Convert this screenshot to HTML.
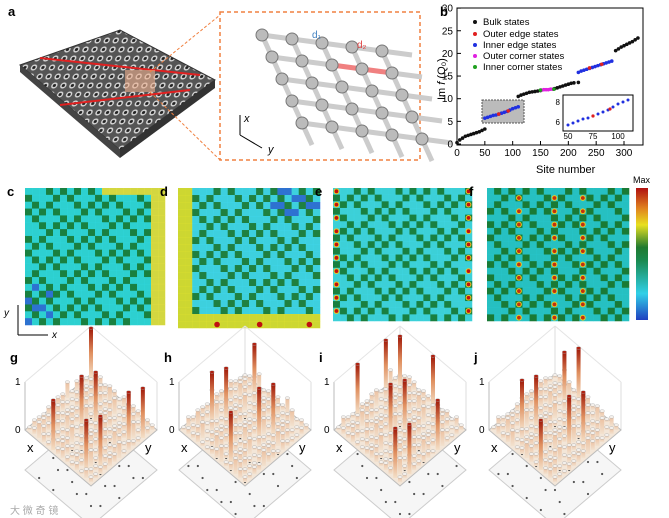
<!DOCTYPE html>
<html><head><meta charset="utf-8"><style>
body{margin:0;background:#fff;font-family:"Liberation Sans",sans-serif}
svg{display:block}
text{font-family:"Liberation Sans",sans-serif}
</style></head><body>
<svg id="fig" width="669" height="518" viewBox="0 0 669 518">
<defs>
<linearGradient id="cbar" x1="0" y1="1" x2="0" y2="0">
<stop offset="0" stop-color="#2040c0"/><stop offset="0.2" stop-color="#30d0e8"/><stop offset="0.45" stop-color="#1a8a50"/><stop offset="0.55" stop-color="#207a30"/><stop offset="0.72" stop-color="#e8e020"/><stop offset="0.85" stop-color="#e08020"/><stop offset="1" stop-color="#b01010"/></linearGradient>
<linearGradient id="barg" x1="0" y1="1" x2="0" y2="0"><stop offset="0" stop-color="#f4e0c8"/><stop offset="0.5" stop-color="#e09060"/><stop offset="1" stop-color="#a01808"/></linearGradient>
<linearGradient id="bars" x1="0" y1="1" x2="0" y2="0"><stop offset="0" stop-color="#f2e2d0"/><stop offset="1" stop-color="#ecc0a0"/></linearGradient>
<pattern id="lat" width="9" height="9" patternUnits="userSpaceOnUse" patternTransform="skewX(-20)"><rect width="9" height="9" fill="#555"/><circle cx="4.5" cy="4.5" r="3" fill="#ddd"/><circle cx="4.5" cy="4.5" r="1.6" fill="#222"/></pattern>
</defs>
<!-- panel a -->
<g>
<text x="8" y="16" font-size="13" font-weight="bold">a</text>
<polygon points="20,65 120,30 215,80 120,150" fill="url(#lat)" stroke="#333"/>
<polygon points="20,65 120,150 120,158 20,72" fill="#444"/>
<polygon points="120,150 215,80 215,88 120,158" fill="#333"/>
<line x1="40" y1="58" x2="200" y2="75" stroke="#e02020" stroke-width="2"/>
<line x1="60" y1="105" x2="190" y2="90" stroke="#e02020" stroke-width="2"/>
<rect x="125" y="70" width="30" height="22" fill="#f0b090" opacity="0.6"/>
<line x1="150" y1="72" x2="220" y2="15" stroke="#f08040" stroke-dasharray="3,2"/>
<line x1="150" y1="92" x2="220" y2="160" stroke="#f08040" stroke-dasharray="3,2"/>
<rect x="220" y="12" width="200" height="148" fill="#fff" stroke="#f08040" stroke-dasharray="4,3" stroke-width="1.5"/>
<g id="zlat"></g>
<text x="244" y="122" font-size="11" font-style="italic">x</text>
<text x="268" y="153" font-size="11" font-style="italic">y</text>
<line x1="240" y1="135" x2="240" y2="115" stroke="#000"/><line x1="240" y1="135" x2="262" y2="148" stroke="#000"/>
<text x="312" y="38" font-size="10" fill="#4080c0">d₁</text><text x="357" y="48" font-size="10" fill="#e04040">d₂</text>
</g>
<!-- panel b -->
<g>
<text x="440" y="16" font-size="13" font-weight="bold">b</text>
<rect x="457" y="8" width="186" height="137" fill="none" stroke="#000"/>
<g id="bax"></g>
<text x="536" y="173" font-size="11">Site number</text>
<text transform="translate(445,100) rotate(-90)" font-size="11">Im <tspan font-style="italic">f</tspan> (Q₀)</text>
<rect x="482" y="100" width="42" height="23" fill="#bbb" stroke="#555" stroke-dasharray="2,1"/>
<g id="bpts"></g>
<rect x="563" y="95" width="70" height="36" fill="#fff" stroke="#000"/>
<g id="ipts"></g>
<g font-size="9.5">
<circle cx="475" cy="22" r="2" fill="#111"/><text x="483" y="25">Bulk states</text>
<circle cx="475" cy="34" r="2" fill="#e02020"/><text x="483" y="37">Outer edge states</text>
<circle cx="475" cy="45" r="2" fill="#2030e0"/><text x="483" y="48">Inner edge states</text>
<circle cx="475" cy="56" r="2" fill="#e020e0"/><text x="483" y="59">Outer corner states</text>
<circle cx="475" cy="67" r="2" fill="#20a020"/><text x="483" y="70">Inner corner states</text>
</g>
</g>
<!-- heatmaps -->
<g id="heat"></g>
<rect x="636" y="188" width="12" height="132" fill="url(#cbar)"/>
<text x="633" y="183" font-size="9">Max</text>
<g>
<line x1="18" y1="335" x2="18" y2="305" stroke="#000"/><line x1="18" y1="335" x2="48" y2="335" stroke="#000"/>
<text x="4" y="316" font-size="10" font-style="italic">y</text><text x="52" y="338" font-size="10" font-style="italic">x</text></g>
<g id="bars3d"></g>
<text x="10" y="514" font-size="10" fill="#aaa">大  微 奇 镜</text>
</svg>
<script>
// panel b data
const bulkSites=[0,5,10,15,20,25,30,35,40,45,50,110,115,120,125,130,135,140,145,150,175,180,185,190,195,200,205,210,218,285,290,295,300,305,310,315,320,325];
const bulkVals=[0.3,0.9,1.3,1.7,1.9,2.1,2.3,2.5,2.7,3.0,3.3,10.5,10.8,11.0,11.2,11.4,11.5,11.6,11.7,11.8,12.2,12.4,12.6,12.8,13.0,13.2,13.4,13.5,13.6,20.6,21.0,21.4,21.7,22.0,22.3,22.6,23.0,23.4];
const edgeSites=[50,55,60,65,70,75,80,85,90,95,100,105,110,218,223,228,233,238,243,248,253,258,263,268,273,278];
const edgeVals=[5.7,5.9,6.1,6.3,6.4,6.6,6.8,7.0,7.2,7.5,7.8,8.0,8.2,15.8,16.1,16.3,16.5,16.7,16.9,17.1,17.3,17.5,17.7,17.9,18.1,18.3];
const outerSites=[75,92,238,260];
const outerVals=[6.6,7.3,16.8,17.6];
const cornerSites=[152,156,160,164,168,172];
const cornerVals=[11.9,12.0,12.0,12.0,12.1,12.1];
const innerCornerSites=[150,174];
const innerCornerVals=[11.9,12.1];
const xTicks=[0,50,100,150,200,250,300];
const yTicks=[0,5,10,15,20,25,30];
const insetX=[50,75,100];
const insetY=[6,8];
const NS="http://www.w3.org/2000/svg";
function mk(t,a,p){const e=document.createElementNS(NS,t);for(const k in a)e.setAttribute(k,a[k]);p.appendChild(e);return e;}
const sx=v=>457+v*0.5567, sy=v=>144-v*4.53;
const bax=document.getElementById('bax');
xTicks.forEach(t=>{const l=mk('line',{x1:sx(t),x2:sx(t),y1:145,y2:141,stroke:'#000'},bax);


const tx=mk('text',{x:sx(t),y:156,'font-size':10,'text-anchor':'middle'},bax);tx.textContent=t;

});
yTicks.forEach(t=>{mk('line',{x1:457,x2:461,y1:sy(t),y2:sy(t),stroke:'#000'},bax);
const tx=mk('text',{x:453,y:sy(t)+3.5,'font-size':10,'text-anchor':'end'},bax);tx.textContent=t;

});
const bp=document.getElementById('bpts');
function series(S,V,c,name){S.forEach((s,i)=>{const c1=mk('circle',{cx:sx(s),cy:sy(V[i]),r:1.8,fill:c},bp);

});}
series(bulkSites,bulkVals,'#111','bulk-point');
series(edgeSites,edgeVals,'#2030e0','inner-edge-point');
series(outerSites,outerVals,'#e02020','outer-edge-point');
series(cornerSites,cornerVals,'#e020e0','outer-corner-point');
series(innerCornerSites,innerCornerVals,'#20a020','inner-corner-point');
// inset
const ix=v=>563+(v-45)*1.0, iy=v=>129-(v-5.3)*10;
const ip=document.getElementById('ipts');
edgeSites.slice(0,13).forEach((s,i)=>{const c=mk('circle',{cx:ix(s),cy:iy(edgeVals[i]),r:1.5,fill:'#2030e0'},ip);

});
outerSites.slice(0,2).forEach((s,i)=>{mk('circle',{cx:ix(s),cy:iy(outerVals[i]),r:1.6,fill:'#e02020'},ip);});
insetX.forEach(t=>{const tx=mk('text',{x:ix(t),y:139,'font-size':8,'text-anchor':'middle'},ip);tx.textContent=t;});
insetY.forEach(t=>{const tx=mk('text',{x:560,y:iy(t)+3,'font-size':8,'text-anchor':'end'},ip);tx.textContent=t;});
// zoom lattice
const zl=document.getElementById('zlat');
for(let i=0;i<5;i++)for(let j=0;j<5;j++){const x=262+j*30+i*10,y=35+i*22+j*4;
mk('line',{x1:x,y1:y,x2:x+30,y2:y+4,stroke:(i==1&&j>1&&j<4)?'#f08080':'#ccc','stroke-width':5},zl);
mk('line',{x1:x,y1:y,x2:x+10,y2:y+22,stroke:'#ccc','stroke-width':5},zl);
const c=mk('circle',{cx:x,cy:y,r:6,fill:'#bbb',stroke:'#777'},zl);

}
// heatmaps
const panels=[['c',25,188,140,137,'#30d8e0','#1a8040','#e8e040'],['d',178,188,142,140,'#40d8f0','#1f8040','#e0e030'],['e',333,188,139,133,'#40d8e8','#1a8040','#e0e030'],['f',487,188,142,133,'#28c8d0','#1a7a35','#e8d030']];
const hg=document.getElementById('heat');
panels.forEach((p,k)=>{const [lab,x0,y0,w,h,c1,c2,c3]=p;
const g=mk('g',{},hg);


mk('rect',{x:x0,y:y0,width:w,height:h,fill:c2},g);
const n=20,cw=w/n,ch=h/n;
for(let i=0;i<n;i++)for(let j=0;j<n;j++){
 let col=((i+j)%2==0)?c1:c2;
 const d=((i*7+j*13+k*5)%11);
 if(d<3)col=c1;
 if(k==0&&((j>n-3)||(i<1&&j>10)))col=c3;
 if(k==1&&(j<2||i>n-3))col=c3;
 if(k==1&&i<4&&j>12&&d<4)col='#3070e0';
 if(k==0&&i>13&&j<4&&d<3)col='#3070e0';
 mk('rect',{x:x0+j*cw,y:y0+i*ch,width:cw+0.3,height:ch+0.3,fill:col,opacity:0.9},g);
 if(k==2&&(j==0||j==n-1)&&i%2==0)mk('circle',{cx:x0+j*cw+cw/2,cy:y0+i*ch+ch/2,r:2.4,fill:'#c01010',stroke:'#e8d020'},g);
 if(k==3&&(j==4||j==9||j==13)&&i%2==1)mk('circle',{cx:x0+j*cw+cw/2,cy:y0+i*ch+ch/2,r:2.4,fill:'#c03010',stroke:'#e8d020'},g);
 if(k==1&&i==n-1&&(j==5||j==11||j==18))mk('circle',{cx:x0+j*cw+cw/2,cy:y0+i*ch+ch/2,r:2.8,fill:'#c01010'},g);
}
const t=mk('text',{x:x0-18,y:y0+8,'font-size':13,'font-weight':'bold'},hg);t.textContent=lab;});
// 3D bar panels
const bpanels=[['g',91,3],['h',245,4],['i',400,5],['j',555,6]];
const bg=document.getElementById('bars3d');
bpanels.forEach(([lab,cx,seed])=>{const g=mk('g',{},bg);


const c=430,W=66,H=56,off=40;
mk('polygon',{points:`${cx},${c-H+off} ${cx+W},${c+off} ${cx},${c+H+off} ${cx-W},${c+off}`,fill:'#f6f6f6',stroke:'#ccc'},g);
mk('line',{x1:cx-W,y1:c,x2:cx-W,y2:c-48,stroke:'#bbb'},g);
mk('line',{x1:cx,y1:c-H,x2:cx,y2:c-H-48,stroke:'#ddd'},g);
mk('line',{x1:cx+W,y1:c,x2:cx+W,y2:c-48,stroke:'#ddd'},g);
mk('line',{x1:cx-W,y1:c-48,x2:cx,y2:c-H-48,stroke:'#e4e4e4'},g);
mk('line',{x1:cx+W,y1:c-48,x2:cx,y2:c-H-48,stroke:'#e4e4e4'},g);
mk('polygon',{points:`${cx},${c-H} ${cx+W},${c} ${cx},${c+H} ${cx-W},${c}`,fill:'#f3e6d8',stroke:'#bbb'},g);
const n=14,items=[];
for(let i=0;i<n;i++)for(let j=0;j<n;j++){const u=(i+0.5)/n,v=(j+0.5)/n;
 items.push({px:cx-W+W*u+W*v,py:c-H*u+H*v,r:(i*31+j*17+seed*7)%53,i,j});}
items.sort((a,b)=>a.py-b.py);
items.forEach(o=>{const tall=o.r==0||o.r==27;const hgt=tall?50:(o.r<6?16:3+(o.r%7));
 const b=mk('rect',{x:o.px-2,y:o.py-hgt,width:4,height:hgt,fill:tall?'url(#barg)':'url(#bars)'},g);
 
 
 mk('ellipse',{cx:o.px,cy:o.py-hgt,rx:2.2,ry:1.3,fill:tall?'#b02010':'#f4f0ec',stroke:'#aaa','stroke-width':0.4},g);
 if(o.r<8)mk('circle',{cx:o.px,cy:o.py+off,r:1.1,fill:'#555'},g);});
const t=mk('text',{x:cx-W-15,y:c-68,'font-size':13,'font-weight':'bold'},bg);t.textContent=lab;
[['1',c-45],['0',c+3]].forEach(([s,y])=>{const tt=mk('text',{x:cx-W-10,y:y,'font-size':10},bg);tt.textContent=s;});
const tx=mk('text',{x:cx-W+2,y:c+22,'font-size':13},bg);tx.textContent='x';
const ty=mk('text',{x:cx+W-12,y:c+22,'font-size':13},bg);ty.textContent='y';});
</script>
</body></html>
